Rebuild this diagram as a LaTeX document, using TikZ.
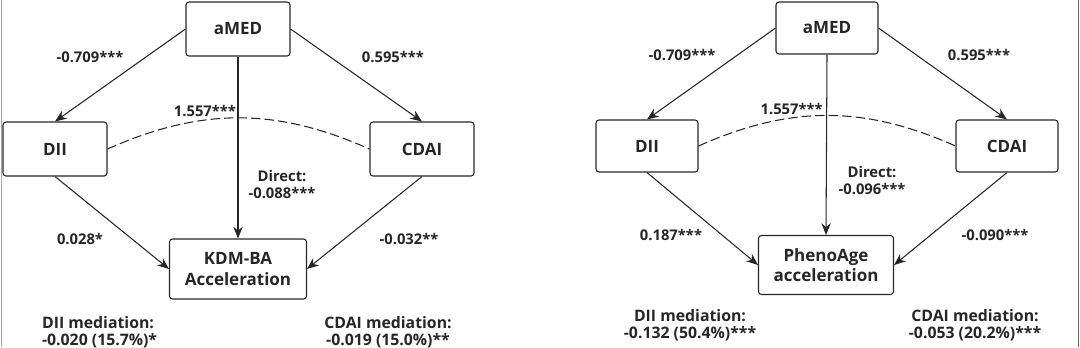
\documentclass[tikz,border=0pt]{standalone}
\usepackage{fontspec}
\setmainfont{Open Sans}
\usepackage{tikz}
\usetikzlibrary{arrows.meta, positioning}

\begin{document}
\begin{tikzpicture}[
  varbox/.style={rectangle, draw=black!85, line width=0.9pt, rounded corners=2.5pt, font=\fontsize{14.5}{17.5}\selectfont\bfseries, text=black!85, align=center, minimum width=3.12cm, minimum height=1.62cm},
  outbox/.style={varbox, minimum width=4.11cm, minimum height=1.8cm},
  arr/.style={draw=black!85, line width=0.9pt, -{Stealth[length=10pt, width=8pt]}},
  corr/.style={draw=black!85, line width=0.9pt, dash pattern=on 8pt off 3.5pt},
  coef/.style={font=\fontsize{12.6}{14.5}\selectfont\bfseries, text=black!85, align=center, inner sep=1pt},
  med/.style={font=\fontsize{13.5}{14.5}\selectfont\bfseries, text=black!85, inner sep=1pt},
]
\useasboundingbox (0,0) rectangle (32.4,-10.41);
\draw[black!35, line width=0.6pt] (0.03,0) -- (0.03,-10.41);
\draw[black!60, line width=0.6pt] (32.34,0) -- (32.34,-10.41);

% left panel: KDM-BA
\node[varbox] (amedL) at (7.14,-0.87) {aMED};
\node[varbox] (diiL)  at (1.65,-4.47) {DII};
\node[varbox] (cdaiL) at (12.66,-4.47) {CDAI};
\node[outbox] (kdm)   at (7.14,-8.07) {KDM-BA\\Acceleration};

\draw[arr] (amedL.west)  -- (diiL.north);
\draw[arr] (amedL.east)  -- (cdaiL.north);
\draw[arr] (amedL.south) -- (kdm.north);
\draw[arr] (diiL.south)  -- (kdm.west);
\draw[arr] (cdaiL.south) -- (kdm.east);
\draw[corr] (diiL.east) to[bend left=24] (cdaiL.west);

\node[coef] (aL)  at (2.70,-1.71)  {-0.709***};
\node[coef] (cL)  at (11.79,-1.71) {0.595***};
\node[coef] (rL)  at (6.15,-3.33)  {1.557***};
\node[coef] (dL)  at (8.46,-5.52)  {Direct:\\-0.088***};
\node[coef] (bL)  at (2.40,-7.17)  {0.028*};
\node[coef] (eL)  at (12.27,-7.17) {-0.032**};
\node[med, align=left, anchor=west] (mdL) at (1.22,-9.96) {DII mediation:\\-0.020 (15.7\%)*};
\node[med, align=center] (mcL) at (11.64,-9.96) {CDAI mediation:\\-0.019 (15.0\%)**};

% right panel: PhenoAge
\node[varbox, minimum width=3.06cm, minimum height=1.56cm] (amedR) at (24.81,-0.84) {aMED};
\node[varbox, minimum width=3.06cm, minimum height=1.56cm] (diiR)  at (19.41,-4.38) {DII};
\node[varbox, minimum width=3.06cm, minimum height=1.56cm] (cdaiR) at (30.21,-4.38) {CDAI};
\node[outbox, minimum width=4.05cm, minimum height=1.77cm] (pheno) at (24.78,-7.95) {PhenoAge\\acceleration};

\draw[arr] (amedR.west)  -- (diiR.north);
\draw[arr] (amedR.east)  -- (cdaiR.north);
\draw[arr] (amedR.south) -- (pheno.north);
\draw[arr] (diiR.south)  -- (pheno.west);
\draw[arr] (cdaiR.south) -- (pheno.east);
\draw[corr] (diiR.east) to[bend left=24] (cdaiR.west);

\node[coef] (aR)  at (20.46,-1.65) {-0.709***};
\node[coef] (cR)  at (29.37,-1.65) {0.595***};
\node[coef] (rR)  at (23.75,-3.26) {1.557***};
\node[coef] (dR)  at (26.16,-5.40) {Direct:\\-0.096***};
\node[coef] (bR)  at (20.13,-7.05) {0.187***};
\node[coef] (eR)  at (29.85,-7.05) {-0.090***};
\node[med, align=center] (mdR) at (20.70,-9.75) {DII mediation:\\-0.132 (50.4\%)***};
\node[med, align=center] (mcR) at (29.25,-9.75) {CDAI mediation:\\-0.053 (20.2\%)***};
\end{tikzpicture}
\end{document}
